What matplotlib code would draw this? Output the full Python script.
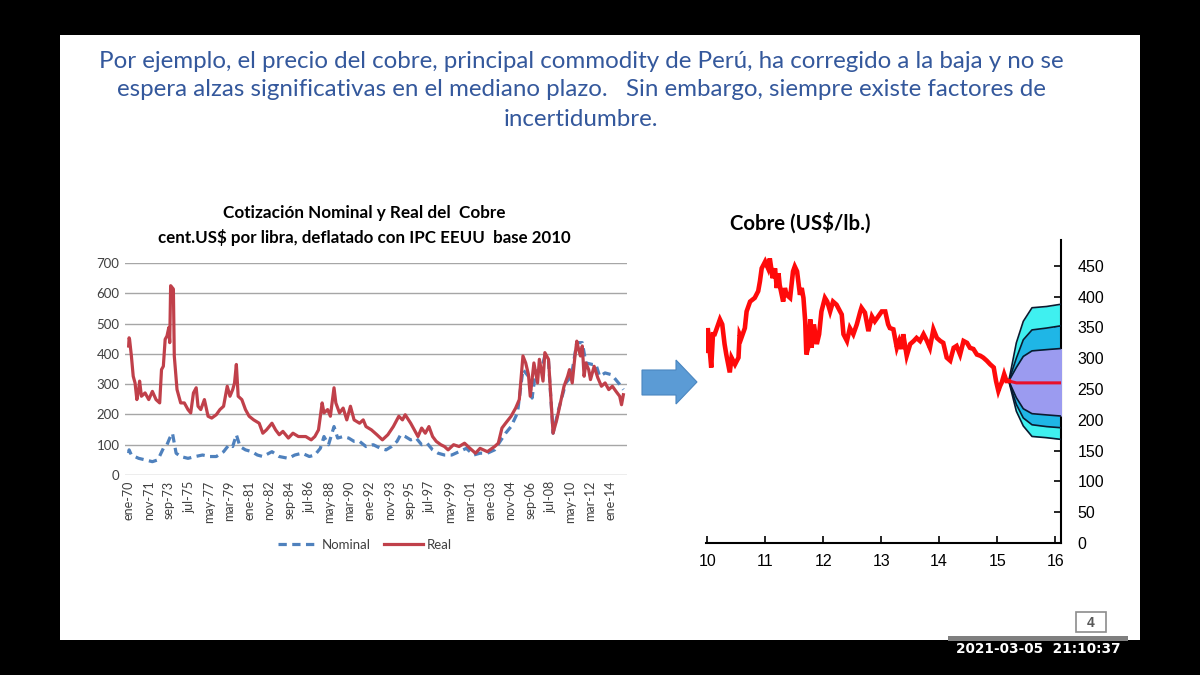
import matplotlib
matplotlib.use("Agg")
import matplotlib.pyplot as plt
from matplotlib.patches import Rectangle, Polygon

# --- left chart: months since ene-70, values in cent.US$ por libra ---
real_month = [0, 0.5, 1, 3, 5, 7, 9, 11, 12, 14, 18, 22, 26, 30, 34, 36, 38, 40, 42, 44, 45, 46,
              49, 50, 53, 55, 57, 61, 65, 68, 71, 74, 76, 79, 83, 87, 91, 96, 100, 104, 108, 111,
              114, 116, 118, 120, 124, 128, 132, 137, 143, 147, 151, 157, 161, 165, 169, 175,
              180, 186, 194, 200, 204, 208, 212, 214, 218, 221, 225, 227, 231, 235, 239, 243,
              247, 253, 257, 260, 266, 272, 278, 284, 290, 296, 300, 303, 309, 313, 317, 321,
              325, 329, 333, 337, 342, 346, 350, 356, 362, 368, 374, 380, 385, 393, 401, 405,
              409, 413, 419, 424, 428, 432, 435, 438, 440, 444, 448, 450, 454, 456, 460, 462,
              465, 469, 473, 477, 481, 483, 486, 489, 491, 493, 495, 497, 499, 501, 504, 506,
              510, 514, 518, 522, 526, 530, 534, 538, 540, 542]
real_value = [426, 453, 448, 393, 326, 304, 249, 282, 310, 260, 271, 249, 276, 249, 238, 348, 359,
              448, 459, 487, 437, 625, 614, 393, 282, 260, 238, 238, 216, 205, 271, 288, 227,
              216, 249, 194, 188, 199, 216, 227, 293, 260, 282, 304, 365, 260, 249, 216, 194,
              182, 171, 138, 149, 171, 149, 133, 144, 122, 138, 127, 127, 116, 127, 149, 238,
              205, 216, 194, 288, 238, 205, 221, 182, 227, 182, 171, 182, 160, 149, 133, 116,
              133, 160, 194, 182, 199, 171, 149, 127, 155, 138, 160, 127, 111, 100, 94, 83,
              100, 94, 105, 88, 72, 88, 77, 94, 105, 155, 171, 194, 221, 249, 393, 370, 332,
              260, 370, 304, 382, 310, 404, 382, 282, 138, 182, 238, 293, 326, 348, 304, 393,
              442, 415, 393, 426, 326, 370, 348, 315, 359, 321, 293, 304, 282, 293, 276, 260,
              232, 265]

nominal_month = [0, 0.5, 3, 11, 18, 26, 32, 38, 42, 45, 48, 52, 57, 65, 73, 81, 89, 96, 104, 110,
                 114, 118, 122, 128, 135, 141, 147, 157, 165, 175, 182, 190, 198, 204, 210, 214,
                 219, 225, 229, 235, 241, 247, 253, 260, 268, 276, 282, 288, 294, 298, 303, 309,
                 315, 321, 327, 333, 339, 346, 354, 362, 370, 378, 385, 393, 401, 407, 413, 419,
                 426, 432, 438, 442, 446, 452, 456, 460, 465, 471, 479, 485, 491, 497, 501, 508,
                 512, 516, 522, 528, 532, 538, 542]
nominal_value = [72, 83, 66, 55, 50, 44, 50, 88, 100, 122, 138, 72, 61, 55, 61, 66, 61, 61, 77, 100,
                 94, 133, 94, 83, 77, 66, 61, 77, 61, 55, 66, 72, 61, 66, 88, 127, 100, 160, 122,
                 127, 122, 111, 111, 94, 100, 88, 83, 94, 111, 133, 127, 116, 122, 100, 105, 83,
                 72, 66, 66, 77, 88, 66, 72, 72, 83, 111, 138, 160, 205, 348, 326, 254, 343, 348,
                 393, 376, 138, 216, 304, 326, 437, 437, 370, 365, 365, 326, 337, 332, 321, 299,
                 282]

tick_labels = ["ene-70", "nov-71", "sep-73", "jul-75", "may-77", "mar-79", "ene-81", "nov-82",
               "sep-84", "jul-86", "may-88", "mar-90", "ene-92", "nov-93", "sep-95", "jul-97",
               "may-99", "mar-01", "ene-03", "nov-04", "sep-06", "jul-08", "may-10", "mar-12",
               "ene-14"]

# --- right chart: copper price (US$/lb, in cents) and fan forecast ---
cobre_year = [10.00, 10.01, 10.02, 10.07, 10.10, 10.13, 10.22, 10.26, 10.30, 10.33, 10.39, 10.42,
              10.48, 10.54, 10.56, 10.59, 10.65, 10.68, 10.74, 10.82, 10.88, 10.91, 10.94, 11.00,
              11.05, 11.08, 11.13, 11.17, 11.20, 11.23, 11.25, 11.31, 11.34, 11.37, 11.43, 11.48,
              11.51, 11.55, 11.60, 11.63, 11.66, 11.69, 11.71, 11.74, 11.78, 11.80, 11.84, 11.89,
              11.93, 11.97, 12.03, 12.07, 12.12, 12.17, 12.23, 12.32, 12.35, 12.41, 12.46, 12.52,
              12.58, 12.64, 12.66, 12.72, 12.78, 12.84, 12.89, 12.95, 13.01, 13.07, 13.12, 13.15,
              13.21, 13.27, 13.31, 13.35, 13.38, 13.44, 13.50, 13.56, 13.61, 13.67, 13.73, 13.79,
              13.84, 13.90, 13.96, 14.02, 14.07, 14.13, 14.19, 14.25, 14.30, 14.36, 14.42, 14.48,
              14.53, 14.59, 14.65, 14.71, 14.76, 14.82, 14.88, 14.94, 14.98, 15.02, 15.05, 15.08,
              15.12, 15.16, 15.20]
cobre_value = [312, 349, 340, 285, 339, 339, 363, 355, 323, 306, 277, 301, 290, 301, 339, 333,
               349, 376, 392, 398, 409, 425, 446, 457, 446, 462, 430, 446, 414, 438, 419, 392,
               414, 403, 398, 441, 449, 441, 403, 414, 398, 360, 306, 317, 363, 317, 355, 323,
               339, 376, 398, 392, 376, 392, 387, 371, 339, 328, 349, 339, 355, 376, 382, 374,
               344, 368, 360, 368, 376, 376, 355, 349, 347, 317, 328, 315, 339, 304, 323, 328,
               333, 328, 339, 328, 317, 347, 333, 328, 325, 301, 296, 317, 320, 306, 328, 325,
               317, 315, 306, 304, 301, 296, 290, 285, 263, 247, 255, 261, 274, 263, 263]

fan_year = [15.20, 15.33, 15.45, 15.60, 15.85, 16.12]
fan_outer_hi = [263, 325, 360, 382, 384, 388]
fan_mid_hi = [263, 300, 330, 346, 349, 353]
fan_inner_hi = [263, 285, 303, 312, 314, 316]
fan_inner_lo = [263, 236, 218, 210, 208, 206]
fan_mid_lo = [263, 225, 203, 192, 189, 187]
fan_outer_lo = [263, 214, 190, 173, 171, 168]
fan_central = [263, 260, 260, 260, 260, 260]

W, H = 1200, 675


def fx(px):
    return px / W


def fy(py):
    return 1 - py / H


fig = plt.figure(figsize=(12, 6.75), dpi=100, facecolor="black")

# slide background
fig.patches.append(Rectangle((fx(60), fy(640)), fx(1080), 605 / H,
                             transform=fig.transFigure, facecolor="white",
                             edgecolor="none", zorder=-5))

slide_lines = ["Por ejemplo, el precio del cobre, principal commodity de Perú, ha corregido a la baja y no se",
               "espera alzas significativas en el mediano plazo.   Sin embargo, siempre existe factores de",
               "incertidumbre."]
for text, ypx in zip(slide_lines, (61, 90, 120)):
    fig.text(fx(581), fy(ypx), text, ha="center", va="center", fontsize=17.4,
             color="#34589c", family="Lato")

# ---- left chart
ax1 = fig.add_axes([fx(125), fy(475), fx(502), 212 / H])
ax1.patch.set_alpha(0)
ax1.plot(nominal_month, nominal_value, color="#4f81bd", lw=2.3, ls=(0, (2.6, 1.7)),
         dash_capstyle="butt", label="Nominal")
ax1.plot(real_month, real_value, color="#c0404a", lw=2.3, label="Real")
ax1.set_xlim(-4, 546)
ax1.set_ylim(0, 700)
ax1.set_yticks(range(0, 701, 100))
ax1.set_xticks(range(0, 529, 22))
ax1.set_xticklabels(tick_labels, rotation=90, family="Lato", fontsize=9, color="#404040")
for lab in ax1.get_yticklabels():
    lab.set_family("Lato")
    lab.set_fontsize(9.5)
    lab.set_color("#404040")
ax1.tick_params(length=0, pad=4)
ax1.grid(axis="y", color="#a6a6a6", lw=1)
ax1.set_axisbelow(True)
for s in ax1.spines.values():
    s.set_visible(False)
ax1.legend(loc="center", bbox_to_anchor=(fx(365), fy(545)), bbox_transform=fig.transFigure,
           ncol=2, frameon=False, prop={"family": "Lato", "size": 9.5}, labelcolor="#404040",
           handlelength=3, columnspacing=1.0, handletextpad=0.3)

fig.text(fx(364), fy(213), "Cotización Nominal y Real del  Cobre", ha="center", va="center",
         fontsize=12.3, fontweight="bold", family="Lato", color="black")
fig.text(fx(364), fy(237), "cent.US$ por libra, deflatado con IPC EEUU  base 2010", ha="center",
         va="center", fontsize=12.2, fontweight="bold", family="Lato", color="black")

# ---- arrow between charts
arrow_px = [(642, 370), (676, 370), (676, 360), (697, 382), (676, 404), (676, 395), (642, 395)]
fig.patches.append(Polygon([(fx(x), fy(y)) for x, y in arrow_px], closed=True,
                           transform=fig.transFigure, facecolor="#5b9bd5",
                           edgecolor="#4a86c0", lw=0.8, zorder=2))

# ---- right chart
ax2 = fig.add_axes([fx(706), fy(543), fx(355), 303 / H])
ax2.patch.set_alpha(0)
ax2.fill_between(fan_year, fan_outer_lo, fan_outer_hi, color="#3ff0f0", lw=0, zorder=1)
ax2.fill_between(fan_year, fan_mid_lo, fan_mid_hi, color="#1fb6e6", lw=0, zorder=2)
ax2.fill_between(fan_year, fan_inner_lo, fan_inner_hi, color="#9b9bf0", lw=0, zorder=3)
for band in (fan_outer_hi, fan_mid_hi, fan_inner_hi, fan_inner_lo, fan_mid_lo, fan_outer_lo):
    ax2.plot(fan_year, band, color="#0a1a30", lw=1.2, zorder=4)
ax2.plot(fan_year, fan_central, color="#e8102a", lw=2.2, zorder=5)
ax2.plot(cobre_year, cobre_value, color="#ff0a0a", lw=3.3, zorder=6, solid_joinstyle="miter")
ax2.set_xlim(9.98, 16.1)
ax2.set_ylim(0, 492)
ax2.set_xticks(range(10, 17))
ax2.set_yticks(range(0, 451, 50))
ax2.yaxis.tick_right()
ax2.spines["left"].set_visible(False)
ax2.spines["top"].set_visible(False)
ax2.spines["right"].set_linewidth(1.5)
ax2.spines["bottom"].set_linewidth(1.5)
ax2.tick_params(direction="in", length=5, width=1.2, labelsize=11.5, pad=8)
ax2.tick_params(axis="y", pad=12)
for lab in ax2.get_xticklabels() + ax2.get_yticklabels():
    lab.set_family("Liberation Sans")

fig.text(fx(730), fy(223), "Cobre (US$/lb.)", ha="left", va="center", fontsize=14.7,
         fontweight="bold", family="Lato", color="black")

# ---- page number and recording bar
fig.patches.append(Rectangle((fx(1076), fy(632)), fx(30), 20 / H, transform=fig.transFigure,
                             facecolor="white", edgecolor="#8c8c8c", lw=1.2, zorder=3))
fig.text(fx(1091), fy(623), "4", ha="center", va="center", fontsize=10, fontweight="bold",
         color="#595959", family="Liberation Sans")
fig.patches.append(Rectangle((fx(948), fy(641)), fx(180), 5 / H, transform=fig.transFigure,
                             facecolor="#7f7f7f", edgecolor="none", zorder=3))
fig.text(fx(1038), fy(649), "2021-03-05  21:10:37", ha="center", va="center", fontsize=9.8,
         fontweight="bold", color="white", family="DejaVu Sans")

fig.savefig("out.png", dpi=100, facecolor=fig.get_facecolor())
